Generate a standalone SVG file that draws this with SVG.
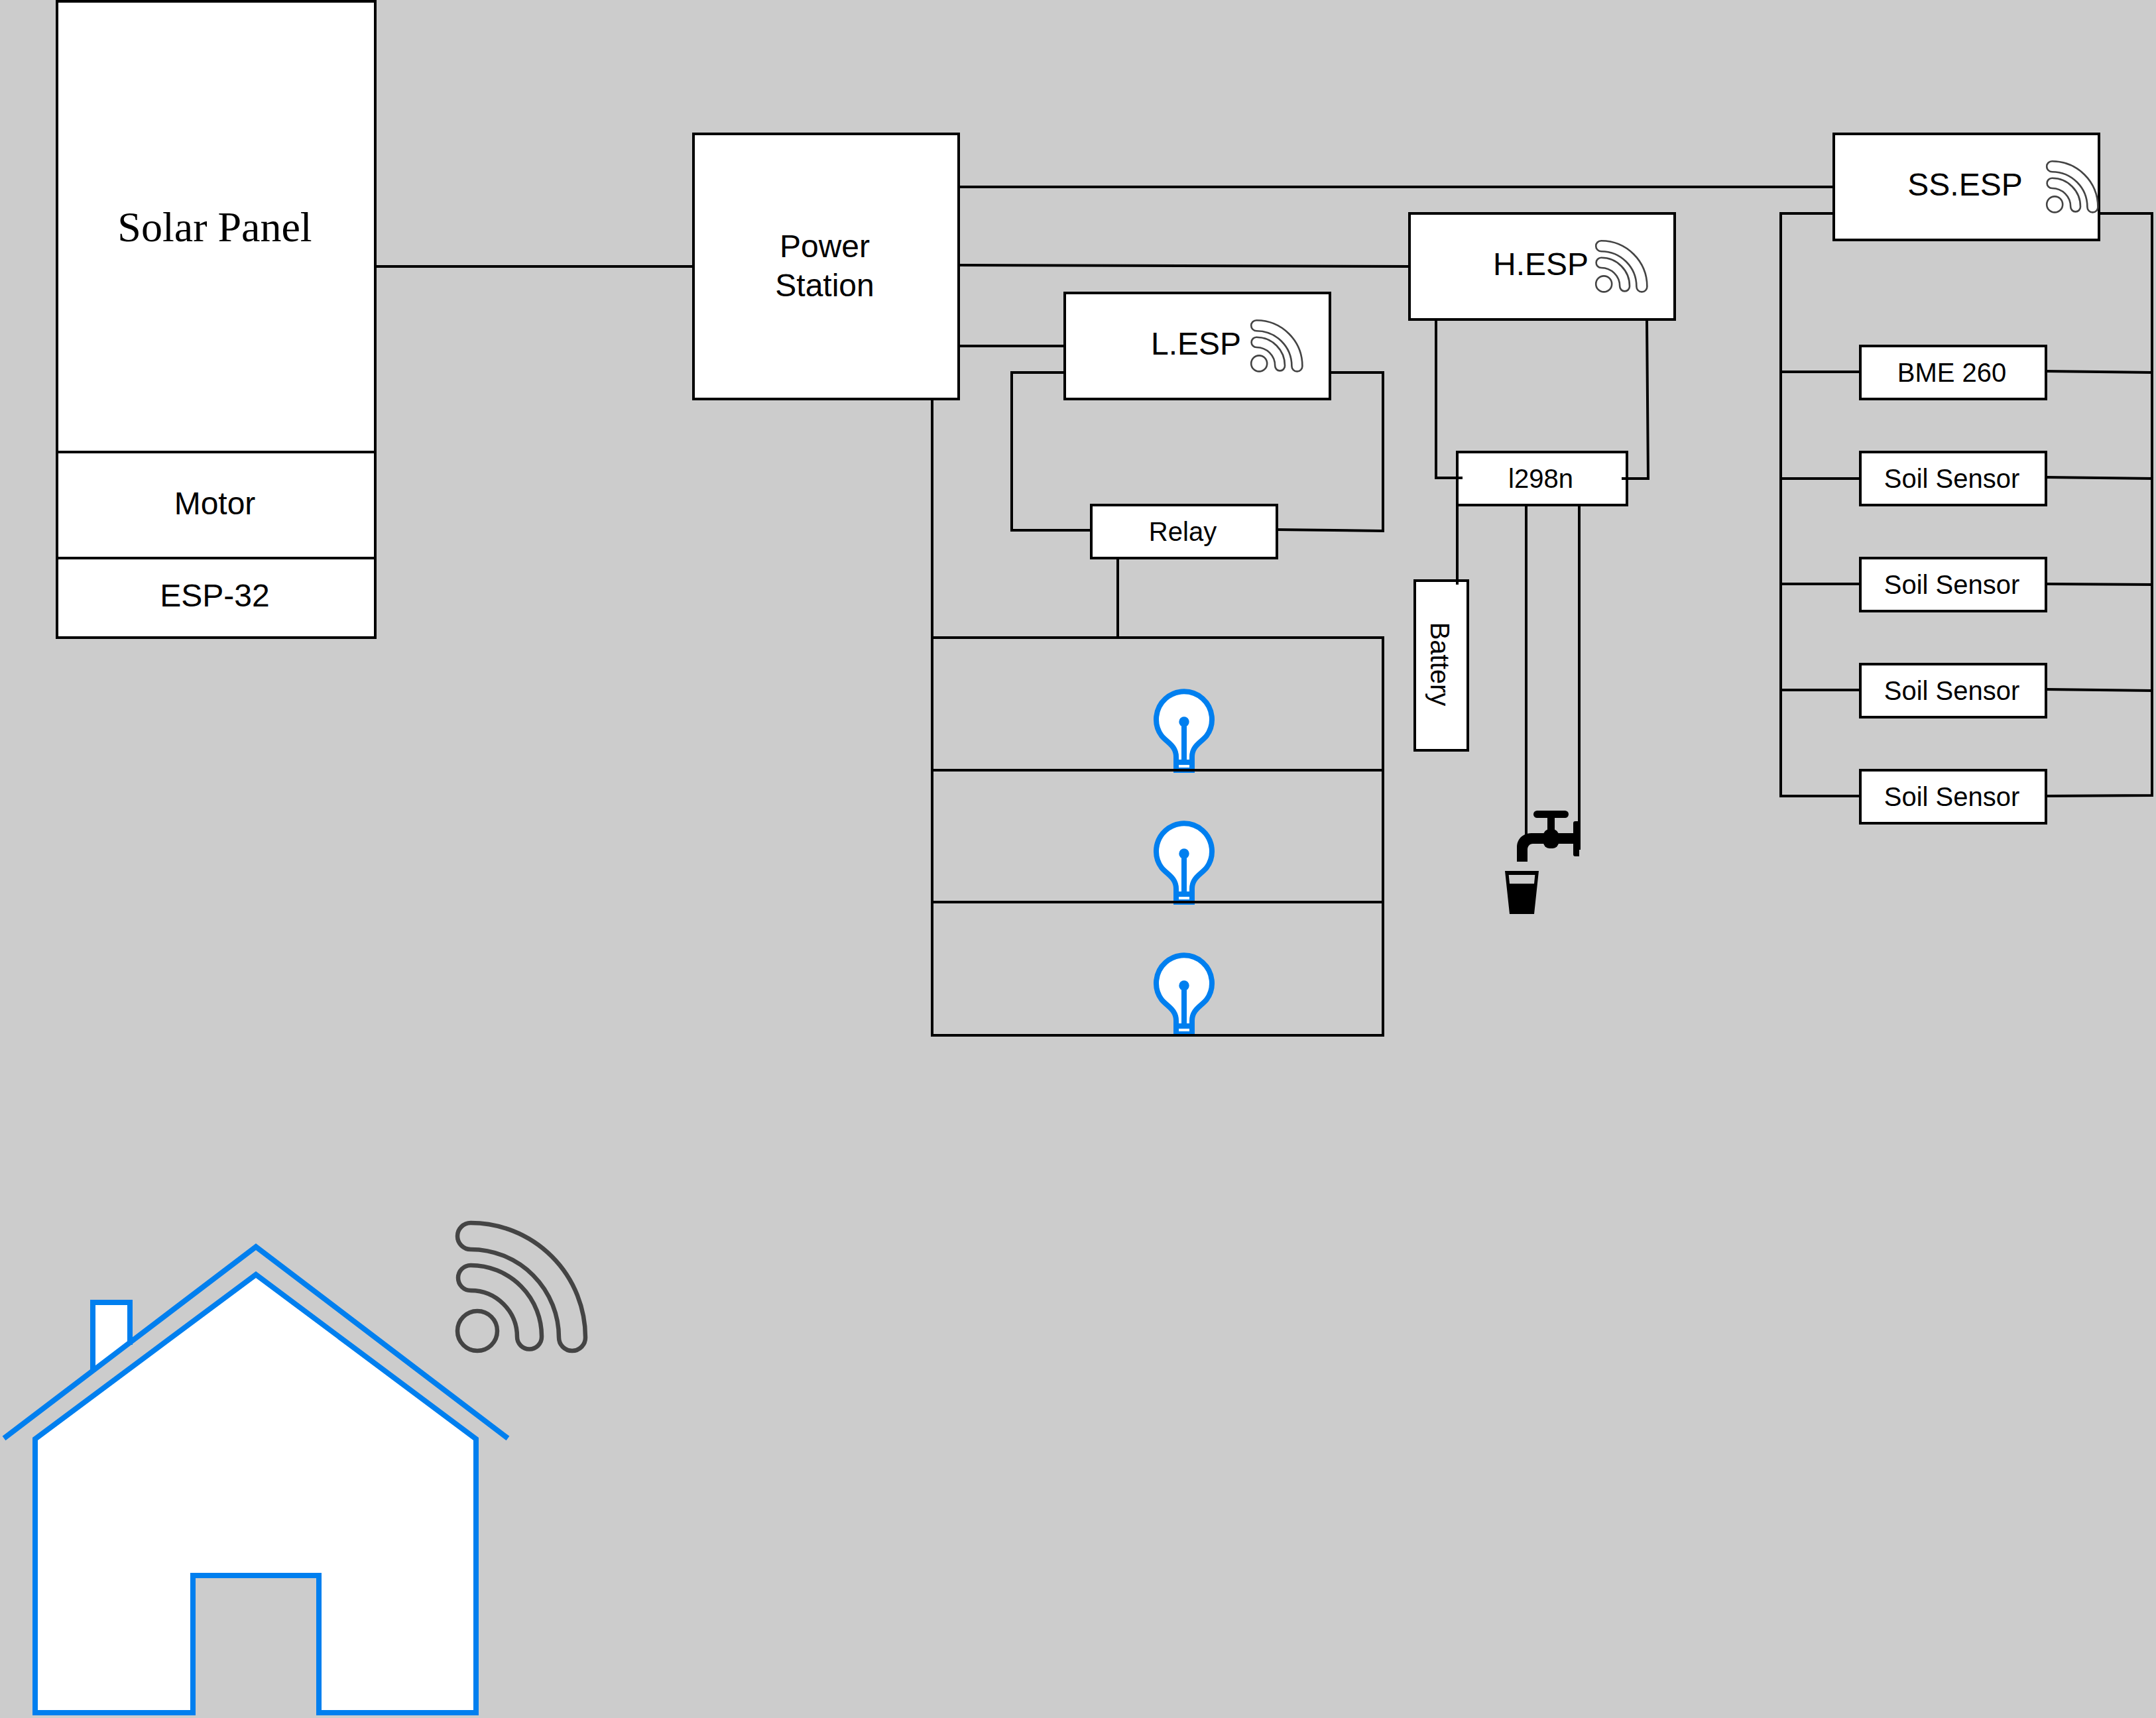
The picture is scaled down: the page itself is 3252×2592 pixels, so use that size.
<svg xmlns="http://www.w3.org/2000/svg" width="3252" height="2592" viewBox="0 0 3252 2592">
<style>
.b{fill:#fff;stroke:#000;stroke-width:4}
.c{fill:none;stroke:#000;stroke-width:4;stroke-linecap:square}
.t{font-family:"Liberation Sans",Arial,sans-serif;text-anchor:middle;fill:#000}
.l{font-size:48px}
.s{font-size:40px}
.h{fill:#fff;stroke:#007fef;stroke-width:8}
.bl{fill:#007fef}
</style>
<defs>
<g id="wifi" fill="none" stroke="#444" stroke-width="6.500">
<path d="M23,3A173,173 0 0 1 196,176A20,20 0 0 1 156,176A133,133 0 0 0 23,43A20,20 0 0 1 23,3Z"/>
<path d="M23,67A107,107 0 0 1 130,175A18.500,18.500 0 0 1 93,175A70,70 0 0 0 23,105A19,19 0 0 1 23,67Z"/>
<ellipse cx="33" cy="166" rx="30" ry="30"/>
</g>
<g id="bulb">
<path class="h" d="M1774,1162V1142C1774,1125 1760,1120 1752,1110A42,42 0 1 1 1820,1110C1812,1120 1798,1125 1798,1142V1162Z"/>
<circle class="bl" cx="1786" cy="1089" r="7.700"/>
<rect class="bl" x="1782" y="1089" width="8" height="60"/>
<rect class="bl" x="1770" y="1146" width="32" height="8"/>
<rect class="bl" x="1770" y="1158" width="32" height="8"/>
<rect class="bl" x="1770" y="1146" width="8" height="20"/>
<rect class="bl" x="1794" y="1146" width="8" height="20"/>
</g>
</defs>
<rect width="3252" height="2592" fill="#ccc"/>
<g id="solar-panel"><rect class="b" x="86" y="2" width="480" height="680"/><text class="t" x="324" y="364" font-size="64" style="font-family:'Liberation Serif','Times New Roman',serif">Solar Panel</text></g>
<g id="motor"><rect class="b" x="86" y="682" width="480" height="160"/><text class="t l" x="324" y="776">Motor</text></g>
<g id="esp-32"><rect class="b" x="86" y="842" width="480" height="120"/><text class="t l" x="324" y="915">ESP-32</text></g>
<g id="power-station"><rect class="b" x="1046" y="202" width="400" height="400"/><text class="t l" x="1244" y="388">Power</text><text class="t l" x="1244" y="447">Station</text></g>
<g id="l-esp"><rect class="b" x="1606" y="442" width="400" height="160"/><text class="t l" x="1804" y="535">L.ESP</text><use href="#wifi" transform="translate(1886,482) scale(.4)"/></g>
<g id="h-esp"><rect class="b" x="2126" y="322" width="400" height="160"/><text class="t l" x="2324" y="415">H.ESP</text><use href="#wifi" transform="translate(2406,362) scale(.4)"/></g>
<g id="ss-esp"><rect class="b" x="2766" y="202" width="400" height="160"/><text class="t l" x="2964" y="295">SS.ESP</text><use href="#wifi" transform="translate(3086,242) scale(.4)"/></g>
<g id="relay"><rect class="b" x="1646" y="762" width="280" height="80"/><text class="t s" x="1784" y="816">Relay</text></g>
<g id="l298n"><rect class="b" x="2198" y="682" width="256" height="80"/><text class="t s" x="2324" y="736">l298n</text></g>
<g id="battery"><rect class="b" x="2134" y="876" width="80" height="256"/><text class="t s" transform="translate(2158,1002) rotate(90)">Battery</text></g>
<g id="bme-260"><rect class="b" x="2806" y="522" width="280" height="80"/><text class="t s" x="2944" y="576">BME 260</text></g>
<g id="soil-1"><rect class="b" x="2806" y="682" width="280" height="80"/><text class="t s" x="2944" y="736">Soil Sensor</text></g>
<g id="soil-2"><rect class="b" x="2806" y="842" width="280" height="80"/><text class="t s" x="2944" y="896">Soil Sensor</text></g>
<g id="soil-3"><rect class="b" x="2806" y="1002" width="280" height="80"/><text class="t s" x="2944" y="1056">Soil Sensor</text></g>
<g id="soil-4"><rect class="b" x="2806" y="1162" width="280" height="80"/><text class="t s" x="2944" y="1216">Soil Sensor</text></g>
<g id="lamp-1"><use href="#bulb"/></g>
<g id="lamp-2"><use href="#bulb" y="199"/></g>
<g id="lamp-3"><use href="#bulb" y="398"/></g>
<g id="faucet" fill="#000">
<rect x="2313" y="1223" width="53" height="11" rx="5.500"/>
<rect x="2334" y="1232" width="11" height="24"/>
<rect x="2328" y="1251" width="23" height="29" rx="9"/>
<path d="M2288,1300V1278C2288,1265 2298,1257 2310,1257H2375V1273H2312C2307,1273 2304,1277 2304,1282V1300Z"/>
<path d="M2383,1239H2376Q2373,1239 2373,1242V1289Q2373,1292 2376,1292H2382V1282H2383Z"/>
</g>
<g id="cup"><path fill-rule="evenodd" d="M2270,1314H2321L2314,1379H2277ZM2275.700,1320L2277,1333.300H2314L2315.300,1320Z"/></g>
<g id="house">
<path class="h" d="M53,2584V2171L386,1923L718,2171V2584H481V2377H291V2584Z"/>
<path class="h" d="M140,2067V1965H196V2029"/>
<path d="M6,2170L386,1881L766,2170" fill="none" stroke="#007fef" stroke-width="8"/>
<use href="#wifi" x="687" y="1842"/>
</g>
<g id="connectors">
<path class="c" d="M566,402H1046"/>
<path class="c" d="M1446,282H2766"/>
<path class="c" d="M1446,400L2126,402"/>
<path class="c" d="M1446,522H1606"/>
<path class="c" d="M1406,602V1562"/>
<path class="c" d="M1406,962H2086"/>
<path class="c" d="M1406,1162H2086"/>
<path class="c" d="M1406,1361H2086"/>
<path class="c" d="M1406,1562H2086"/>
<path class="c" d="M2086,962V1562"/>
<path class="c" d="M1686,842V962"/>
<path class="c" d="M1606,562H1526V800H1646"/>
<path class="c" d="M2006,562H2086V801L1926,799"/>
<path class="c" d="M2166,482V721H2204"/>
<path class="c" d="M2484,482L2486,722H2448"/>
<path class="c" d="M2198,762V880"/>
<path class="c" d="M2302,762V1258"/>
<path class="c" d="M2382,762V1280"/>
<path class="c" d="M2766,322H2686V1201H2806"/>
<path class="c" d="M2686,561H2806"/>
<path class="c" d="M2686,722H2806"/>
<path class="c" d="M2686,881H2806"/>
<path class="c" d="M2686,1041H2806"/>
<path class="c" d="M3166,322H3246V1200L3086,1201"/>
<path class="c" d="M3086,560L3246,562"/>
<path class="c" d="M3086,720L3246,722"/>
<path class="c" d="M3086,881L3246,882"/>
<path class="c" d="M3086,1040L3246,1042"/>
</g>
</svg>
